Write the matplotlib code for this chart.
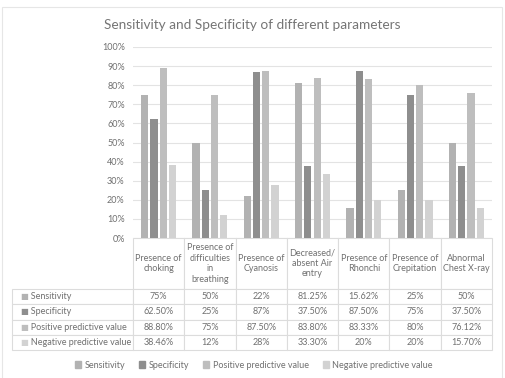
import matplotlib.pyplot as plt
from matplotlib.patches import Rectangle
import numpy as np

plt.rcParams['font.family'] = ['Lato', 'DejaVu Sans']

categories = ['Presence of\nchoking', 'Presence of\ndifficulties\nin\nbreathing',
              'Presence of\nCyanosis', 'Decreased/\nabsent Air\nentry',
              'Presence of\nRhonchi', 'Presence of\nCrepitation', 'Abnormal\nChest X-ray']
series = ['Sensitivity', 'Specificity', 'Positive predictive value', 'Negative predictive value']
sensitivity = [75, 50, 22, 81.25, 15.62, 25, 50]
specificity = [62.5, 25, 87, 37.5, 87.5, 75, 37.5]
ppv = [88.8, 75, 87.5, 83.8, 83.33, 80, 76.12]
npv = [38.46, 12, 28, 33.3, 20, 20, 15.7]
sens_lbl = ['75%', '50%', '22%', '81.25%', '15.62%', '25%', '50%']
spec_lbl = ['62.50%', '25%', '87%', '37.50%', '87.50%', '75%', '37.50%']
ppv_lbl = ['88.80%', '75%', '87.50%', '83.80%', '83.33%', '80%', '76.12%']
npv_lbl = ['38.46%', '12%', '28%', '33.30%', '20%', '20%', '15.70%']
colors = ['#b2b2b2', '#8e8e8e', '#bebebe', '#d2d2d2']
txt = '#707070'
grid = '#e3e3e3'

fig = plt.figure(figsize=(5.05, 3.78), dpi=100)
# outer chart frame
fig.patches.append(Rectangle((2/505, -0.01), 500/505, 1 - 7/378 + 0.01,
                             transform=fig.transFigure, fill=False,
                             edgecolor='#e6e6e6', lw=0.8))

ax = fig.add_axes([133/505, 1 - 238/378, 359/505, 191/378])
x = np.arange(len(categories)) + 0.5
w = 0.14
step = 0.18
data = [sensitivity, specificity, ppv, npv]
for i, (vals, c) in enumerate(zip(data, colors)):
    ax.bar(x + (i - 1.5) * step, vals, width=w, color=c, zorder=3)

ax.set_xlim(0, len(categories))
ax.set_ylim(0, 100)
ax.set_yticks(range(0, 101, 10))
ax.set_yticklabels([f'{v}%' for v in range(0, 101, 10)], fontsize=6.5, color=txt)
ax.set_xticks([])
ax.tick_params(axis='y', length=0, pad=6)
ax.grid(axis='y', color=grid, lw=0.8, zorder=0)
for s in ax.spines.values():
    s.set_visible(False)

fig.text(252/505, 1 - 25/378, 'Sensitivity and Specificity of different parameters',
         ha='center', va='center', fontsize=9.8, color='#757575')

cell_text = [sens_lbl, spec_lbl, ppv_lbl, npv_lbl]
tbl = ax.table(cellText=cell_text, rowLabels=['       ' + s for s in series],
               colLabels=categories, cellLoc='center', rowLoc='left',
               bbox=[0, -112/191, 1, 112/191])
tbl.auto_set_font_size(False)
hh = 51/191
rh = 61/191/4
for (r, c), cell in tbl.get_celld().items():
    cell.set_edgecolor('#dcdcdc')
    cell.set_linewidth(0.8)
    cell.get_text().set_color(txt)
    cell.get_text().set_fontsize(6.5)
    cell.set_height(hh if r == 0 else rh)
    if c == -1:
        cell.set_width(113/359)
        cell.PAD = 0.02
    else:
        cell.set_width(1/7)

for i, c in enumerate(colors):
    yc = -hh - rh * (i + 0.5)
    ax.text(-108.5/359, yc, '■', color=c, fontsize=6, ha='center', va='center',
            transform=ax.transAxes, clip_on=False)

handles = [Rectangle((0, 0), 1, 1, color=c) for c in colors]
fig.legend(handles, series, loc='center', bbox_to_anchor=(254/505, 1 - 365/378),
           ncol=4, frameon=False, fontsize=6.5, labelcolor=txt,
           handlelength=0.7, handleheight=0.7, handletextpad=0.4, columnspacing=1.5)

fig.savefig('out.png', dpi=100)
